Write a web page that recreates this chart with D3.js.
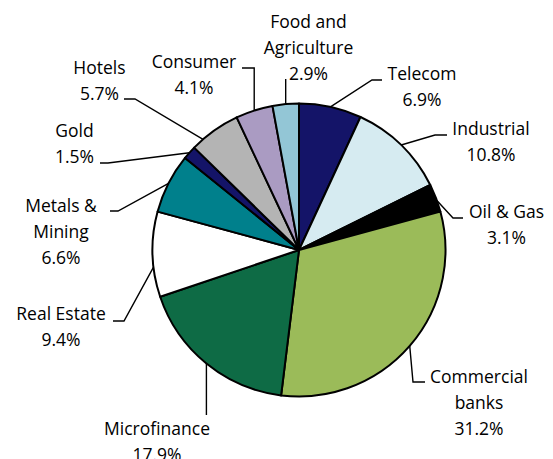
<!DOCTYPE html>
<html>
<head>
<meta charset="utf-8">
<script src="https://cdn.jsdelivr.net/npm/d3@7/dist/d3.min.js"></script>
<style>
  html, body { margin: 0; padding: 0; background: #fff; }
  svg { display: block; }
  text { font-family: "Open Sans", "Noto Sans", sans-serif; font-size: 17.5px; fill: #000; }
</style>
</head>
<body>
<svg id="chart" width="553" height="459"></svg>
<script>
// ---- data ----
const categories = ["Telecom", "Industrial", "Oil & Gas", "Commercial banks", "Microfinance",
  "Real Estate", "Metals & Mining", "Gold", "Hotels", "Consumer", "Food and Agriculture"];
const shares = [6.9, 10.8, 3.1, 31.2, 17.9, 9.4, 6.6, 1.5, 5.7, 4.1, 2.9];
const labelLines = [
  ["Telecom"], ["Industrial"], ["Oil & Gas"], ["Commercial", "banks"], ["Microfinance"],
  ["Real Estate"], ["Metals &", "Mining"], ["Gold"], ["Hotels"], ["Consumer"], ["Food and", "Agriculture"]
];
const colors = ["#141468", "#d6ebf1", "#000000", "#9bbb59", "#0e6b45", "#ffffff",
  "#00808c", "#141468", "#b4b4b4", "#aa9bc2", "#93c6d6"];

// ---- layout (label placement) ----
const cx = 299, cy = 250, r = 146.5;
const layout = [
  { tx: 422, ty: 80, leader: [[372, 80], [382, 80]], off: 0 },
  { tx: 491, ty: 135, leader: [[435, 135], [447, 135]], off: 0 },
  { tx: 506.5, ty: 218, leader: [[453, 218], [463, 218]], off: 1 },
  { tx: 479, ty: 383, leader: [[413, 382], [425, 382]], off: 0 },
  { tx: 157, ty: 435, leader: [["v", 415]], off: 0 },
  { tx: 61, ty: 320, leader: [[124, 321], [113, 321]], off: -5 },
  { tx: 61, ty: 212, leader: [[118, 211], [110, 211]], off: 0 },
  { tx: 74.5, ty: 137, leader: [[108, 163], [100, 163]], off: 0 },
  { tx: 99.5, ty: 74, leader: [[135, 99], [124, 99]], off: -5.5 },
  { tx: 194, ty: 68, leader: [["v", 68], [242, 68]], off: 0 },
  { tx: 308.5, ty: 28, leader: [["v", 79]], off: 0 }
];
const lineH = 26;

const data = categories.map((c, i) => ({ name: c, value: shares[i], lines: labelLines[i], color: colors[i], lay: layout[i] }));

const svg = d3.select("#chart");
const g = svg.append("g").attr("transform", `translate(${cx},${cy})`);

const pie = d3.pie().sort(null).value(d => d.value).startAngle(0).endAngle(2 * Math.PI);
const arc = d3.arc().innerRadius(0).outerRadius(r);
const arcs = pie(data);

g.selectAll("path.slice").data(arcs).enter().append("path")
  .attr("class", "slice")
  .attr("d", arc)
  .attr("fill", d => d.data.color)
  .attr("stroke", "#000")
  .attr("stroke-width", 2)
  .attr("stroke-linejoin", "round");

// leader lines
arcs.forEach(a => {
  const lay = a.data.lay;
  const ang = (a.startAngle + a.endAngle) / 2 + lay.off * Math.PI / 180;
  const ex = cx + r * Math.sin(ang), ey = cy - r * Math.cos(ang);
  const pts = [[ex, ey]];
  lay.leader.forEach(p => {
    if (p[0] === "v") pts.push([ex, p[1]]);
    else pts.push(p);
  });
  svg.append("path")
    .attr("d", d3.line()(pts))
    .attr("fill", "none")
    .attr("stroke", "#000")
    .attr("stroke-width", 1.4);
});

// labels
arcs.forEach(a => {
  const lay = a.data.lay;
  const lines = a.data.lines.concat([a.data.value.toFixed(1) + "%"]);
  const t = svg.append("text").attr("text-anchor", "middle");
  lines.forEach((ln, j) => {
    t.append("tspan").attr("x", lay.tx).attr("y", lay.ty + j * lineH).text(ln);
  });
});
</script>
</body>
</html>
